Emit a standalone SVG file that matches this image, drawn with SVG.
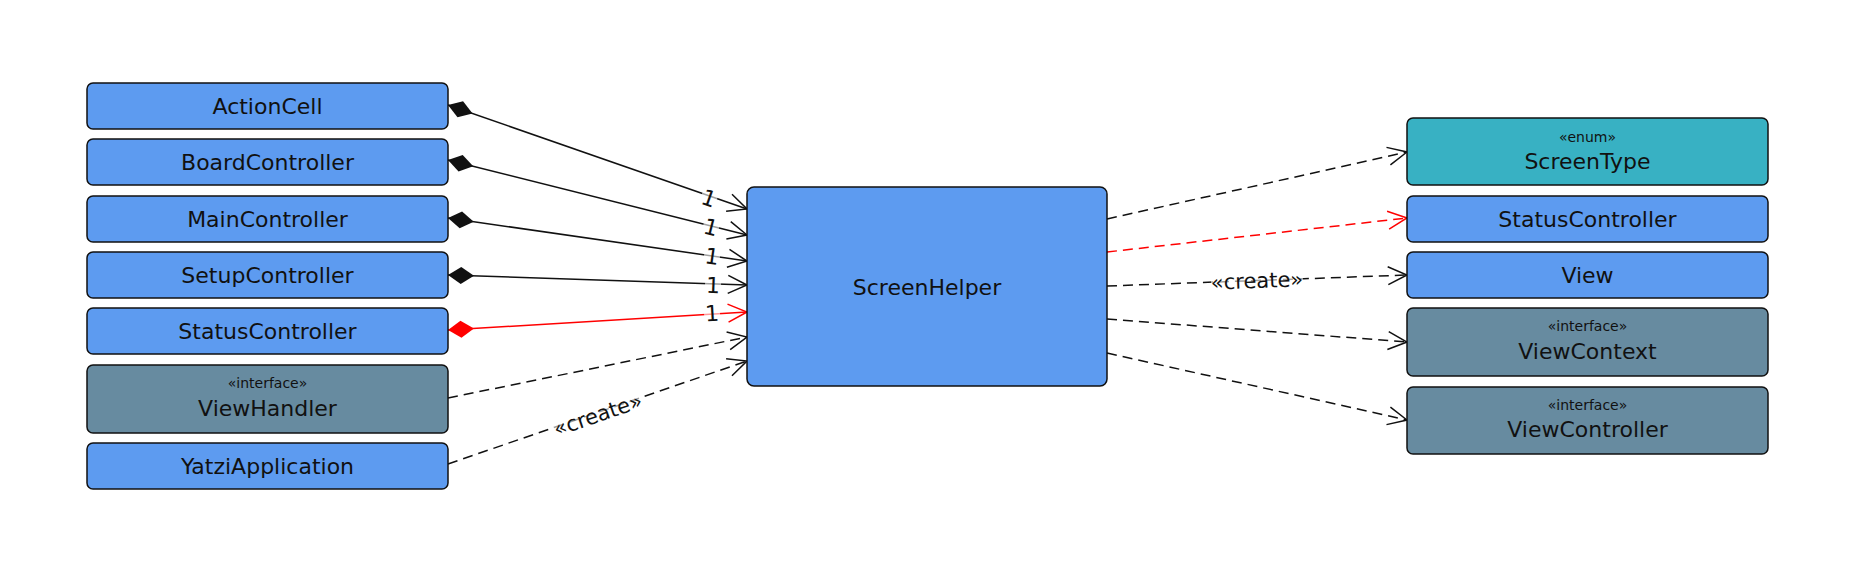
<svg xmlns="http://www.w3.org/2000/svg" width="1866" height="572" viewBox="0 0 1866 572">
<style>
.box{stroke:#111;stroke-width:1.5}
.cls{fill:#5D9BF0}
.enum{fill:#38B1C3}
.intf{fill:#678BA0}
text{font-family:"DejaVu Sans","Liberation Sans",sans-serif;fill:#111}
.name{font-size:22px;text-anchor:middle}
.st{font-size:14px;text-anchor:middle}
.lbl{font-size:22px;text-anchor:middle}
.ln{fill:none;stroke:#111;stroke-width:1.5}
.red{stroke:#FF0000}
.dash{stroke-dasharray:10,6}
.bg{fill:#fff;opacity:0.6}
</style>
<defs>
<marker id="dia" markerUnits="userSpaceOnUse" viewBox="-1 -10 29 20" markerWidth="29" markerHeight="20" refX="0" refY="0" orient="auto"><path d="M0,0 L13,-8.5 L26,0 L13,8.5 Z" fill="#111"/></marker>
<marker id="diaR" markerUnits="userSpaceOnUse" viewBox="-1 -10 29 20" markerWidth="29" markerHeight="20" refX="0" refY="0" orient="auto"><path d="M0,0 L13,-8.5 L26,0 L13,8.5 Z" fill="#FF0000"/></marker>
<marker id="arr" markerUnits="userSpaceOnUse" viewBox="-21 -11 23 22" markerWidth="23" markerHeight="22" refX="0" refY="0" orient="auto"><path d="M-19,-9 L0,0 L-19,9" fill="none" stroke="#111" stroke-width="1.5"/></marker>
<marker id="arrR" markerUnits="userSpaceOnUse" viewBox="-21 -11 23 22" markerWidth="23" markerHeight="22" refX="0" refY="0" orient="auto"><path d="M-19,-9 L0,0 L-19,9" fill="none" stroke="#FF0000" stroke-width="1.5"/></marker>
</defs>
<rect width="1866" height="572" fill="#fff"/>
<g id="connectors">
<line class="ln" x1="448" y1="105" x2="747" y2="209" marker-start="url(#dia)" marker-end="url(#arr)"/>
<line class="ln" x1="448" y1="160" x2="747" y2="235" marker-start="url(#dia)" marker-end="url(#arr)"/>
<line class="ln" x1="448" y1="218" x2="747" y2="261" marker-start="url(#dia)" marker-end="url(#arr)"/>
<line class="ln" x1="448" y1="275" x2="747" y2="285" marker-start="url(#dia)" marker-end="url(#arr)"/>
<line class="ln red" x1="448" y1="330" x2="747" y2="312" marker-start="url(#diaR)" marker-end="url(#arrR)"/>
<line class="ln dash" x1="448" y1="398" x2="747" y2="337" marker-end="url(#arr)"/>
<line class="ln dash" x1="448" y1="464" x2="747" y2="361" marker-end="url(#arr)"/>
<line class="ln dash" x1="1107" y1="219" x2="1407" y2="152" marker-end="url(#arr)"/>
<line class="ln dash red" x1="1107" y1="252" x2="1407" y2="218" marker-end="url(#arrR)"/>
<line class="ln dash" x1="1107" y1="286" x2="1407" y2="275" marker-end="url(#arr)"/>
<line class="ln dash" x1="1107" y1="319" x2="1407" y2="342" marker-end="url(#arr)"/>
<line class="ln dash" x1="1107" y1="353" x2="1407" y2="420" marker-end="url(#arr)"/>
<g transform="translate(709,198) rotate(19.2)"><rect class="bg" x="-8" y="-13" width="16" height="26"/><text class="lbl" y="8">1</text></g>
<g transform="translate(711,227) rotate(14.1)"><rect class="bg" x="-8" y="-13" width="16" height="26"/><text class="lbl" y="8">1</text></g>
<g transform="translate(712,256) rotate(8.2)"><rect class="bg" x="-8" y="-13" width="16" height="26"/><text class="lbl" y="8">1</text></g>
<g transform="translate(713,285) rotate(2.1)"><rect class="bg" x="-8" y="-13" width="16" height="26"/><text class="lbl" y="8">1</text></g>
<g transform="translate(712,313) rotate(-3.4)"><rect class="bg" x="-8" y="-13" width="16" height="26"/><text class="lbl" y="8">1</text></g>
<g transform="translate(598,415) rotate(-18.9)"><rect class="bg" x="-46" y="-13" width="92" height="26"/><text class="lbl" style="font-size:21px" y="7">«create»</text></g>
<g transform="translate(1257,281) rotate(-2.1)"><rect class="bg" x="-46" y="-13" width="92" height="26"/><text class="lbl" style="font-size:21px" y="7">«create»</text></g>
</g>
<g id="ActionCell"><rect class="box cls" x="87" y="83" width="361" height="46" rx="6"/><text class="name" x="267.5" y="114">ActionCell</text></g>
<g id="BoardController"><rect class="box cls" x="87" y="139" width="361" height="46" rx="6"/><text class="name" x="267.5" y="170">BoardController</text></g>
<g id="MainController"><rect class="box cls" x="87" y="196" width="361" height="46" rx="6"/><text class="name" x="267.5" y="227">MainController</text></g>
<g id="SetupController"><rect class="box cls" x="87" y="252" width="361" height="46" rx="6"/><text class="name" x="267.5" y="283">SetupController</text></g>
<g id="StatusControllerL"><rect class="box cls" x="87" y="308" width="361" height="46" rx="6"/><text class="name" x="267.5" y="339">StatusController</text></g>
<g id="ViewHandler"><rect class="box intf" x="87" y="365" width="361" height="68" rx="6"/><text class="st" x="267.5" y="388">«interface»</text><text class="name" x="267.5" y="416">ViewHandler</text></g>
<g id="YatziApplication"><rect class="box cls" x="87" y="443" width="361" height="46" rx="6"/><text class="name" x="267.5" y="474">YatziApplication</text></g>
<g id="ScreenHelper"><rect class="box cls" x="747" y="187" width="360" height="199" rx="7"/><text class="name" x="927" y="295">ScreenHelper</text></g>
<g id="ScreenType"><rect class="box enum" x="1407" y="118" width="361" height="67" rx="6"/><text class="st" x="1587.5" y="142">«enum»</text><text class="name" x="1587.5" y="169">ScreenType</text></g>
<g id="StatusControllerR"><rect class="box cls" x="1407" y="196" width="361" height="46" rx="6"/><text class="name" x="1587.5" y="227">StatusController</text></g>
<g id="View"><rect class="box cls" x="1407" y="252" width="361" height="46" rx="6"/><text class="name" x="1587.5" y="283">View</text></g>
<g id="ViewContext"><rect class="box intf" x="1407" y="308" width="361" height="68" rx="6"/><text class="st" x="1587.5" y="331">«interface»</text><text class="name" x="1587.5" y="359">ViewContext</text></g>
<g id="ViewController"><rect class="box intf" x="1407" y="387" width="361" height="67" rx="6"/><text class="st" x="1587.5" y="410">«interface»</text><text class="name" x="1587.5" y="437">ViewController</text></g>
</svg>
